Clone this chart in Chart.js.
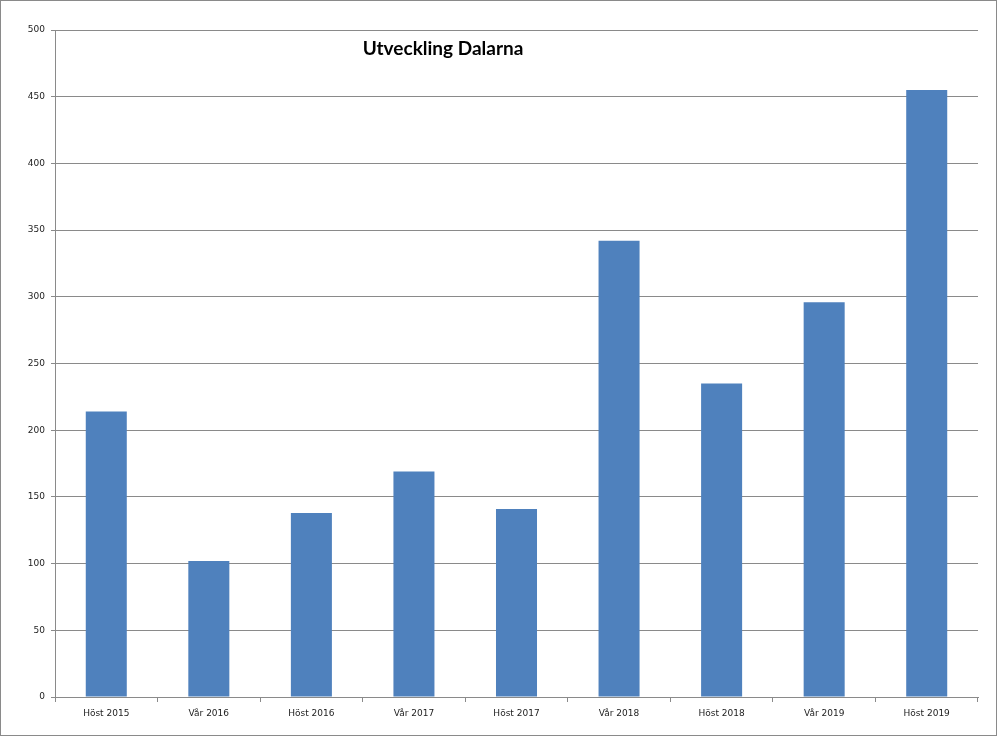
<!DOCTYPE html>
<html>
<head>
<meta charset="utf-8">
<script src="https://cdn.jsdelivr.net/npm/chart.js@4/dist/chart.umd.min.js"></script>
<style>
  body { margin: 0; background: #fff; }
  #frame { position: absolute; left: 0; top: 0; width: 997px; height: 736px; border: 1px solid #8a8a8a; box-sizing: border-box; }
  #myChart { position: absolute; left: 0; top: 0; }
</style>
</head>
<body>
<div id="frame"></div>
<canvas id="myChart" width="1000" height="736"></canvas>
<script>
'use strict';

// chart data

let terms = ['Höst 2015', 'Vår 2016', 'Höst 2016', 'Vår 2017', 'Höst 2017', 'Vår 2018', 'Höst 2018', 'Vår 2019', 'Höst 2019'];
let counts = [214, 102, 138, 169, 141, 342, 235, 296, 455];
let chartTitle = 'Utveckling Dalarna';

// title sits inside the plot, left of centre
const titlePlugin = {
  id: 'floatTitle',
  afterDraw(chart) {
    let ctx = chart.ctx;
    ctx.save();
    ctx.font = 'bold 19px Lato, "Open Sans", sans-serif';
    ctx.fillStyle = '#000';
    ctx.textAlign = 'center';
    ctx.textBaseline = 'middle';
    ctx.fillText(chartTitle, 443, 49);
    ctx.restore();
  }
};

const data = {
  labels: terms,
  datasets: [{
    data: counts,
    backgroundColor: '#4f81bd',
    borderWidth: 0,
    barPercentage: 0.4,
    categoryPercentage: 1
  }]
};

const config = {
  type: 'bar',
  data: data,
  options: {
    responsive: false,
    animation: false,
    layout: {
      padding: { left: 0, right: 22, top: 30, bottom: 0 }
    },
    plugins: {
      legend: { display: false },
      tooltip: { enabled: false }
    },
    scales: {
      x: {
        grid: {
          drawOnChartArea: false,
          color: '#8a8a8a',
          tickLength: 5
        },
        border: { color: '#8a8a8a' },
        ticks: {
          color: '#222',
          padding: 6,
          maxRotation: 0,
          font: { family: '"DejaVu Sans"', size: 9 }
        },
        afterFit(scale) { scale.height = 39; }
      },
      y: {
        min: 0,
        max: 500,
        grid: {
          color: '#8a8a8a',
          tickLength: 4
        },
        border: { color: '#8a8a8a' },
        ticks: {
          stepSize: 50,
          color: '#222',
          padding: 6,
          font: { family: '"DejaVu Sans"', size: 9 }
        },
        afterFit(scale) { scale.width = 55; }
      }
    }
  },
  plugins: [titlePlugin]
};

let canvasChart = document.getElementById('myChart');
const myChart = new Chart(canvasChart, config);
</script>
</body>
</html>
